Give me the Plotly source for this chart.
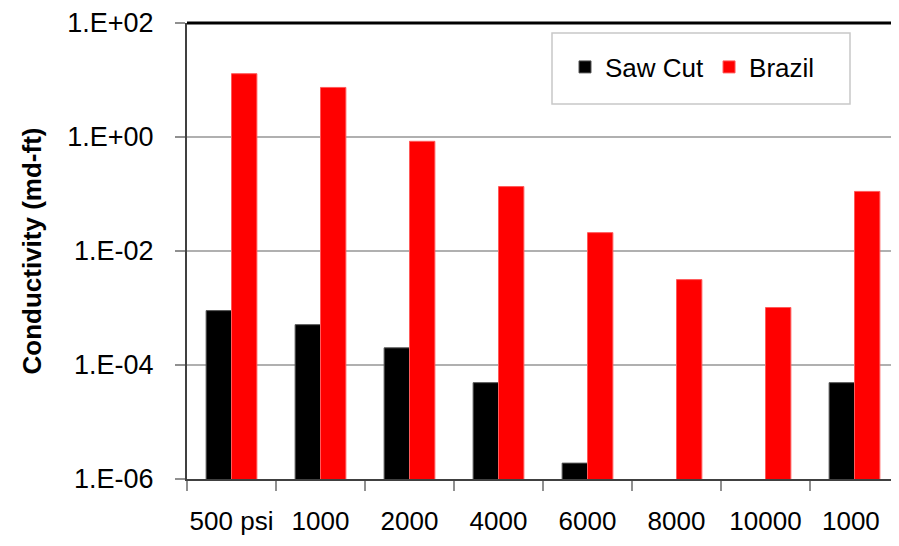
import plotly.graph_objects as go

categories = ["500 psi", "1000", "2000", "4000", "6000", "8000", "10000", "1000 "]
saw_cut = [9.0e-4, 5.1e-4, 2.0e-4, 4.9e-5, 1.9e-6, None, None, 4.9e-5]
brazil = [12.9, 7.4, 0.84, 0.135, 0.021, 0.00315, 0.00102, 0.111]
y_tickvals = [1e-6, 1e-4, 1e-2, 1, 1e2]
y_ticktext = ["1.E-06", "1.E-04", "1.E-02", "1.E+00", "1.E+02"]

FONT = "Liberation Sans"

fig = go.Figure()
fig.add_trace(go.Bar(name="Saw Cut", x=categories, y=saw_cut,
                     marker=dict(color="#000000", line=dict(color="#555555", width=1))))
fig.add_trace(go.Bar(name="Brazil", x=categories, y=brazil,
                     marker=dict(color="#ff0000", line=dict(color="#ff5a5a", width=1))))

# page body has an 8px default margin
OFF = 8
W, H = 899 - OFF, 546 - OFF
L, R, T, B = 187 - OFF, 0, 23 - OFF, 546 - 479
pw = W - L - R
ph = H - T - B

def px_x(x):
    return (x - OFF - L) / pw

def px_y(y):
    return (H - B - (y - OFF)) / ph

fig.update_layout(
    width=W, height=H,
    margin=dict(l=L, r=R, t=T, b=B, autoexpand=False),
    paper_bgcolor="white", plot_bgcolor="white",
    barmode="group", bargap=0.43, bargroupgap=0,
    font=dict(family=FONT, size=25, color="#000000"),
    showlegend=True,
    legend=dict(orientation="h", x=px_x(565), xanchor="left",
                y=px_y(67), yanchor="middle",
                bgcolor="rgba(0,0,0,0)", borderwidth=0,
                font=dict(family=FONT, size=26), traceorder="normal"),
    shapes=[
        dict(type="rect", xref="paper", yref="paper",
             x0=px_x(552), x1=px_x(850), y0=px_y(104), y1=px_y(33),
             line=dict(color="#c8c8c8", width=1.5), fillcolor="rgba(0,0,0,0)", layer="below"),
        dict(type="line", xref="paper", yref="paper", x0=0, x1=1.01, y0=1, y1=1,
             line=dict(color="#000000", width=3)),
    ],
)

fig.update_xaxes(
    type="category", range=[-0.5, 7.5], automargin=False,
    showline=True, linecolor="#404040", linewidth=2,
    ticks="outside", tickson="boundaries", ticklen=10, tickcolor="#909090", tickwidth=1.5,
    ticklabelstandoff=18, tickangle=0,
    showgrid=False, tickfont=dict(family=FONT, size=26),
)
fig.update_yaxes(
    type="log", range=[-6, 2], automargin=False,
    tickvals=y_tickvals, ticktext=y_ticktext,
    showline=True, linecolor="#404040", linewidth=2,
    ticks="outside", ticklen=10, tickcolor="#909090", tickwidth=1.5,
    ticklabelstandoff=16,
    showgrid=True, gridcolor="#b0b0b0", gridwidth=2,
    zeroline=False,
    tickfont=dict(family=FONT, size=27),
    title=dict(text="<b>Conductivity (md-ft)</b>", font=dict(family=FONT, size=26), standoff=18),
)

fig.write_html("out.html")
